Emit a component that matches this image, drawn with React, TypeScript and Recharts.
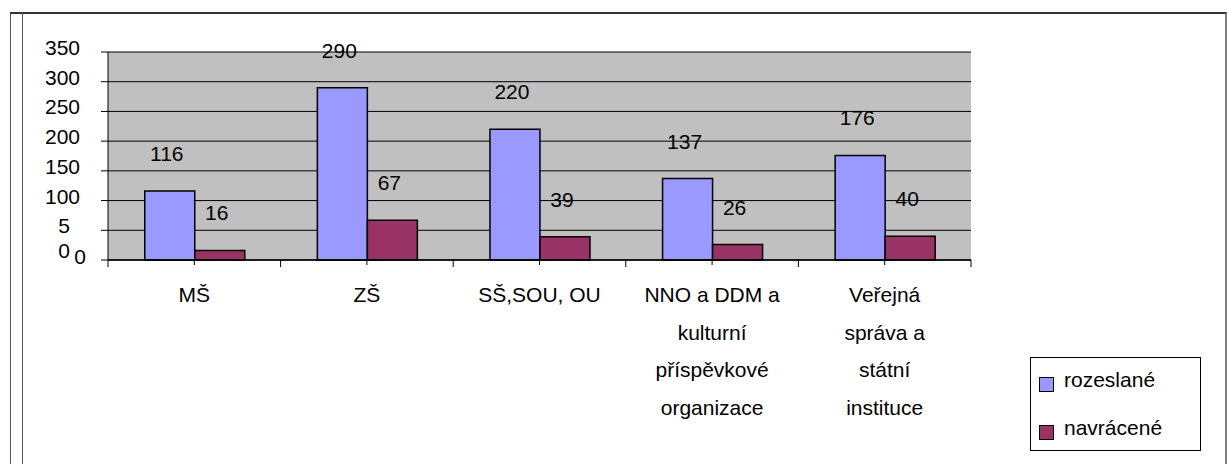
import React from 'react';
import { BarChart, Bar, XAxis, YAxis, CartesianGrid, LabelList, Legend } from 'recharts';

const categories = [
  'MŠ',
  'ZŠ',
  'SŠ,SOU, OU',
  'NNO a DDM a\nkulturní\npříspěvkové\norganizace',
  'Veřejná\nspráva a\nstátní\ninstituce',
];
const rozeslane = [116, 290, 220, 137, 176];
const navracene = [16, 67, 39, 26, 40];
const yTicks = [0, 50, 100, 150, 200, 250, 300, 350];
const yTickLabels = ['0', '5\n0', '100', '150', '200', '250', '300', '350'];
const seriesNames = ['rozeslané', 'navrácené'];

const data = categories.map((c, i) => ({ name: c, rozeslane: rozeslane[i], navracene: navracene[i] }));

const FONT = "'Liberation Sans', Arial, sans-serif";
const FS = 21;
const PLOT_L = 108;
const PLOT_R = 971;
const BAND = (PLOT_R - PLOT_L) / categories.length;

function XTick(props: any) {
  const { x, y, payload, index } = props;
  const lines = String(payload.value).split('\n');
  return (
    <g>
      <line x1={x} x2={x} y1={y} y2={y + 5} stroke="#000" />
      <line x1={x - BAND / 2} x2={x - BAND / 2} y1={y} y2={y + 7} stroke="#000" />
      {index === categories.length - 1 && (
        <line x1={x + BAND / 2} x2={x + BAND / 2} y1={y} y2={y + 7} stroke="#000" />
      )}
      <text textAnchor="middle" fontSize={FS} fontFamily={FONT} fill="#000">
        {lines.map((l, i) => (
          <tspan key={i} x={x} y={y + 42 + i * 37.5}>
            {l}
          </tspan>
        ))}
      </text>
    </g>
  );
}

function YTick(props: any) {
  const { x, y, payload } = props;
  const idx = yTicks.indexOf(payload.value);
  const label = idx >= 0 ? yTickLabels[idx] : String(payload.value);
  const lines = label.split('\n');
  if (lines.length > 1) {
    return (
      <text textAnchor="end" fontSize={FS} fontFamily={FONT} fill="#000">
        {lines.map((l, i) => (
          <tspan key={i} x={x - 10} y={y + 3 + i * 25}>
            {l}
          </tspan>
        ))}
      </text>
    );
  }
  const single = label.length === 1;
  return (
    <text x={single ? x + 6 : x} y={single ? y + 4 : y + 3} textAnchor="end" fontSize={FS} fontFamily={FONT} fill="#000">
      {label}
    </text>
  );
}

const renderValue = (props: any) => {
  const { x, y, width, value } = props;
  return (
    <text x={x + width / 2 - 3} y={y - 30} textAnchor="middle" fontSize={FS} fontFamily={FONT} fill="#000">
      {value}
    </text>
  );
};

const LegendContent = (props: any) => {
  const payload = [...(props.payload || [])].sort(
    (a: any, b: any) => seriesNames.indexOf(a.value) - seriesNames.indexOf(b.value)
  );
  return (
    <div
      style={{
        width: '100%',
        height: '100%',
        boxSizing: 'border-box',
        border: '1px solid #000',
        background: '#fff',
        position: 'relative',
      }}
    >
      {payload.map((p: any, i: number) => (
        <div
          key={i}
          style={{ position: 'absolute', left: 8, top: 10 + i * 48, display: 'flex', alignItems: 'center', height: 24 }}
        >
          <span
            style={{
              display: 'inline-block',
              width: 13,
              height: 13,
              border: '1.5px solid #000',
              background: p.color,
              marginTop: 8,
            }}
          />
          <span style={{ marginLeft: 10, fontSize: FS, fontFamily: FONT, color: '#000', lineHeight: '24px' }}>
            {p.value}
          </span>
        </div>
      ))}
    </div>
  );
};

export default function App() {
  return (
    <div style={{ position: 'absolute', left: 0, top: 0, width: 1228, height: 464, overflow: 'hidden', background: '#fff' }}>
      <div
        style={{
          position: 'absolute',
          left: 10,
          top: 12,
          width: 1217,
          height: 500,
          boxSizing: 'border-box',
          borderLeft: '1px solid #555',
          borderTop: '2px solid #333',
          borderRight: '2px solid #808080',
        }}
      />
      <div style={{ position: 'absolute', left: 22, top: 12, width: 1, height: 460, background: '#555' }} />
      <div style={{ position: 'absolute', left: 0, top: 0 }}>
        <BarChart
          width={1228}
          height={464}
          data={data}
          margin={{ top: 52, right: 257, bottom: 174, left: 48 }}
          barGap={0}
          barCategoryGap="21.3%"
        >
          <CartesianGrid vertical={false} stroke="#000" fill="#C0C0C0" fillOpacity={1} />
          <XAxis
            dataKey="name"
            interval={0}
            height={30}
            tickSize={0}
            tickMargin={0}
            tickLine={false}
            axisLine={{ stroke: '#000', strokeWidth: 1.5 }}
            tick={(p: any) => <XTick {...p} />}
          />
          <XAxis
            xAxisId="top"
            dataKey="name"
            orientation="top"
            height={0}
            tick={false}
            tickLine={false}
            axisLine={{ stroke: '#808080', strokeWidth: 2 }}
          />
          <YAxis
            domain={[0, 350]}
            ticks={yTicks}
            interval={0}
            width={60}
            tickSize={7}
            tickMargin={21}
            axisLine={{ stroke: '#000' }}
            tickLine={{ stroke: '#000' }}
            tick={(p: any) => <YTick {...p} />}
          />
          <YAxis
            yAxisId="r"
            orientation="right"
            domain={[0, 350]}
            width={0}
            tick={false}
            tickLine={false}
            axisLine={{ stroke: '#808080', strokeWidth: 2 }}
          />
          <Legend
            layout="vertical"
            align="center"
            verticalAlign="middle"
            wrapperStyle={{ left: 1030, top: 357, width: 171, height: 94 }}
            content={(p: any) => <LegendContent {...p} />}
          />
          <Bar dataKey="rozeslane" name={seriesNames[0]} fill="#9999FF" stroke="#000" strokeWidth={1.5} isAnimationActive={false}>
            <LabelList dataKey="rozeslane" content={renderValue} />
          </Bar>
          <Bar dataKey="navracene" name={seriesNames[1]} fill="#993366" stroke="#000" strokeWidth={1.5} isAnimationActive={false}>
            <LabelList dataKey="navracene" content={renderValue} />
          </Bar>
        </BarChart>
      </div>
    </div>
  );
}
